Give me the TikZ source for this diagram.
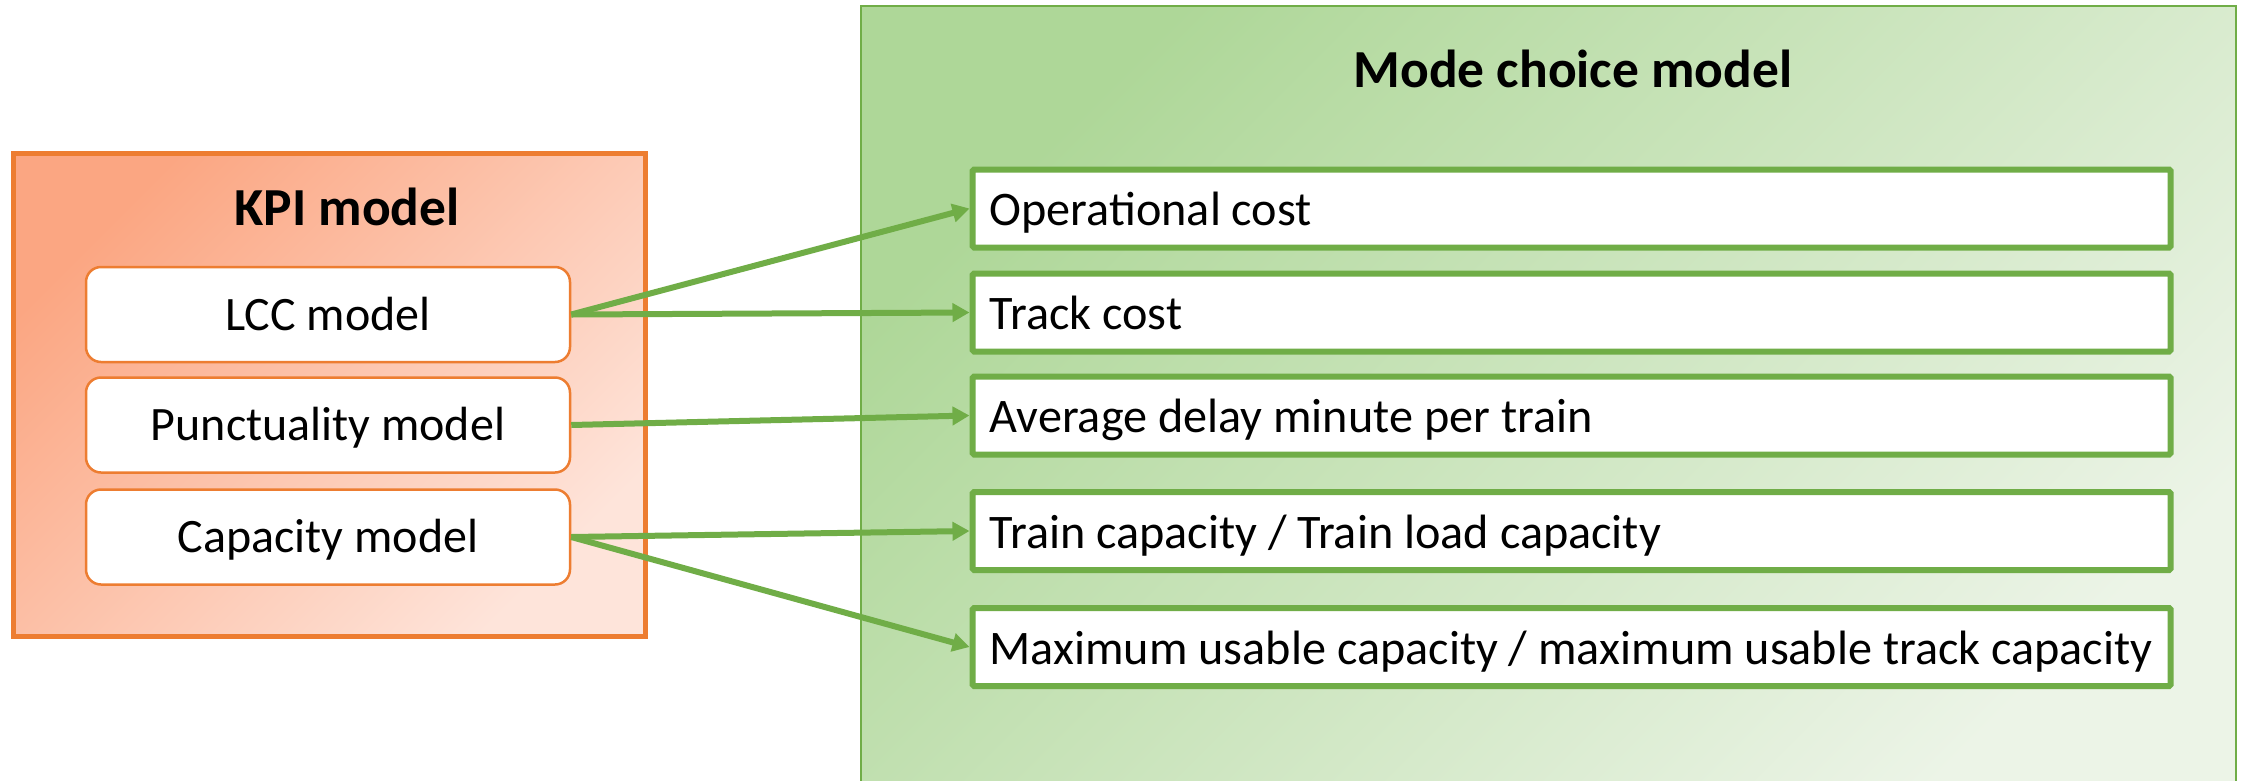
\documentclass[tikz,border=0pt]{standalone}
\usepackage{fontspec}
\setmainfont{Carlito}
\usetikzlibrary{arrows.meta}
\definecolor{kpiorange}{RGB}{237,125,49}
\definecolor{modegreen}{RGB}{112,173,71}
\definecolor{kpidark}{RGB}{251,166,130}
\definecolor{kpilight}{RGB}{254,228,218}
\definecolor{greendark}{RGB}{174,215,152}
\definecolor{greenlight}{RGB}{236,244,231}
\tikzset{
  outerkpi/.style={draw=kpiorange, line width=5pt, top color=kpidark, bottom color=kpilight, shading angle=45, inner sep=0pt},
  outermode/.style={draw=modegreen, line width=2.5pt, top color=greendark, bottom color=greenlight, shading angle=45, inner sep=0pt},
  kpibox/.style={draw=kpiorange, line width=2.5pt, fill=white, rounded corners=15pt, minimum width=484pt, minimum height=95pt, inner sep=0pt, text height=31pt, text depth=0pt, font=\fontsize{48}{58}\selectfont},
  itembox/.style={draw=modegreen, line width=6pt, fill=white, rounded corners=1.5pt, minimum width=1198pt, minimum height=78pt, inner sep=0pt},
  itemtext/.style={anchor=base west, inner sep=0pt, font=\fontsize{48.2}{58}\selectfont},
  titletext/.style={anchor=base, inner sep=0pt, font=\fontsize{53.5}{64}\selectfont\bfseries},
  link/.style={draw=modegreen, line width=6pt, -{Triangle[length=17pt,width=18pt]}}
}
\begin{document}
\begin{tikzpicture}[x=1pt,y=-1pt]
  \useasboundingbox (0,0) rectangle (2244,780);
  % containers
  \node[outermode, minimum width=1375pt, minimum height=800pt] (mode) at (1548.5,406) {};
  \node[outerkpi, minimum width=632pt, minimum height=483pt] (kpi) at (329,394.5) {};
  % titles
  \node[titletext] (kpititle) at (347,225) {KPI model};
  \node[titletext] (modetitle) at (1573,87) {Mode choice model};
  % KPI sub-models
  \node[kpibox] (lcc) at (328,314.5) {LCC model};
  \node[kpibox] (punct) at (328,425) {Punctuality model};
  \node[kpibox] (cap) at (328,537) {Capacity model};
  % mode choice inputs
  \node[itembox] (op) at (1571.5,208.5) {};
  \node[itembox] (track) at (1571.5,312.5) {};
  \node[itembox] (delay) at (1571.5,415.5) {};
  \node[itembox] (load) at (1571.5,531) {};
  \node[itembox] (usable) at (1571.5,647) {};
  \node[itemtext] at ([xshift=20pt,yshift=-17pt]op.west) {Operational cost};
  \node[itemtext] at ([xshift=20pt,yshift=-17pt]track.west) {Track cost};
  \node[itemtext] at ([xshift=20pt,yshift=-17pt]delay.west) {Average delay minute per train};
  \node[itemtext] at ([xshift=20pt,yshift=-17pt]load.west) {Train capacity / Train load capacity};
  \node[itemtext] at ([xshift=20pt,yshift=-17pt]usable.west) {Maximum usable capacity / maximum usable track capacity};
  % links
  \draw[link] (lcc.east) -- (op.west);
  \draw[link] (lcc.east) -- (track.west);
  \draw[link] (punct.east) -- (delay.west);
  \draw[link] (cap.east) -- (load.west);
  \draw[link] (cap.east) -- (usable.west);
\end{tikzpicture}
\end{document}
